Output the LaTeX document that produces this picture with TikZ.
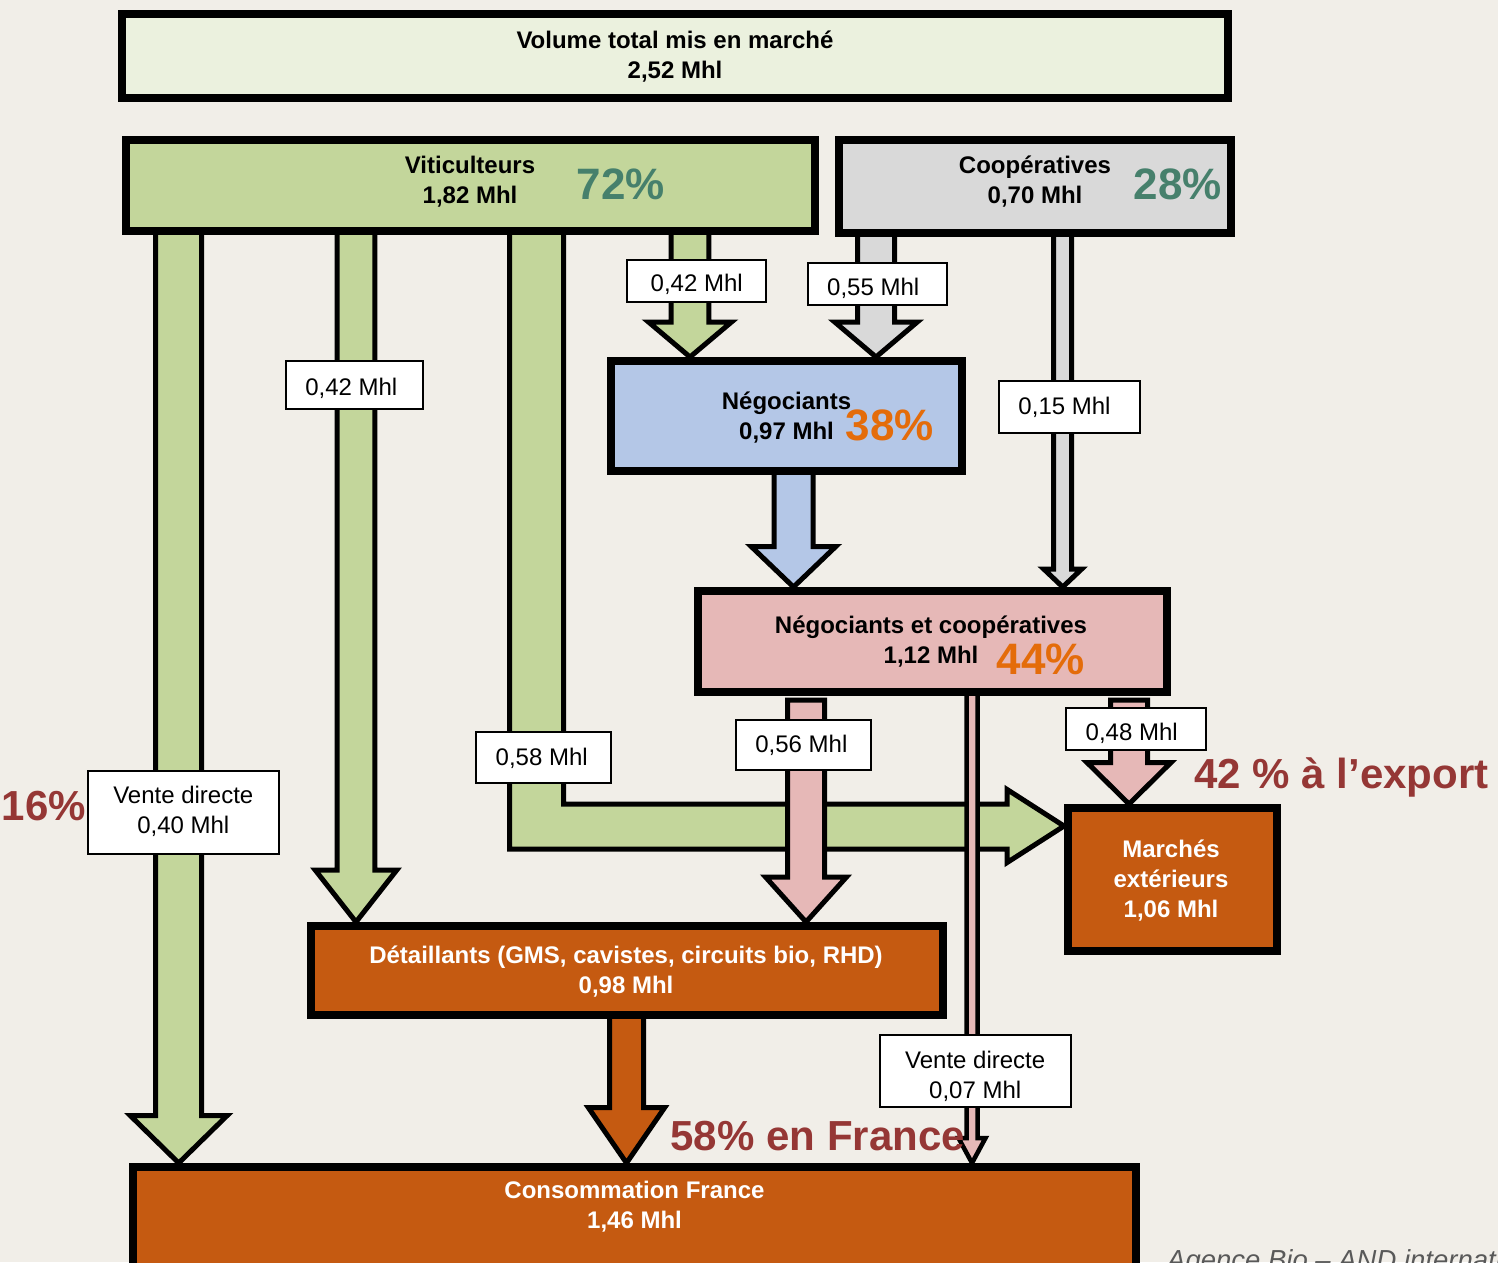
\documentclass[tikz,border=0pt]{standalone}
\usepackage{fontspec}
\setmainfont{Liberation Sans}
\usetikzlibrary{calc}
\definecolor{bgc}{RGB}{241,238,232}
\definecolor{volc}{RGB}{235,241,222}
\definecolor{vitc}{RGB}{195,214,155}
\definecolor{coopc}{RGB}{217,217,217}
\definecolor{negc}{RGB}{180,199,231}
\definecolor{ncc}{RGB}{230,184,183}
\definecolor{orc}{RGB}{197,90,17}
\definecolor{tealc}{RGB}{70,128,108}
\definecolor{orpct}{RGB}{228,108,10}
\definecolor{redc}{RGB}{149,55,53}
\pgfdeclarelayer{bgl}
\pgfdeclarelayer{arr}
\pgfsetlayers{bgl,arr,main}
\tikzset{
  box/.style={draw=black, line width=8pt, rectangle, inner sep=0pt},
  lbl/.style={draw=black, line width=2pt, fill=white, rectangle, inner sep=0pt},
  ltxt/.style={font=\fontsize{24}{30}\selectfont, align=center, inner sep=0pt},
  btxt/.style={font=\fontsize{24}{30}\selectfont\bfseries, align=center, inner sep=0pt},
  wtxt/.style={btxt, text=white},
  pctbox/.style={font=\fontsize{44}{44}\selectfont\bfseries, inner sep=0pt, anchor=base},
  pctred/.style={font=\fontsize{42}{42}\selectfont\bfseries, inner sep=0pt, anchor=base, text=redc},
  blk/.style={draw=black, line width=5pt, line join=miter, miter limit=10},
}
% #1 x, #2 from node, #3 to node, #4 shaft half, #5 head half, #6 head length, #7 style, #8 start offset
\newcommand{\dblock}[8]{%
  \coordinate (bx) at (#1,0);
  \coordinate (bs) at ($(#2.south -| bx)+(0,#8)$);
  \coordinate (bt) at (#3.north -| bx);
  \filldraw[blk,#7] ($(bs)+(-#4,0)$) -- ($(bt)+(-#4,-#6)$) -- ($(bt)+(-#5,-#6)$) -- (bt)
     -- ($(bt)+(#5,-#6)$) -- ($(bt)+(#4,-#6)$) -- ($(bs)+(#4,0)$) -- cycle;
}
\begin{document}
\begin{tikzpicture}[x=1pt,y=-1pt]
\path[use as bounding box] (0,0) rectangle (1498,1262);
\clip (0,0) rectangle (1498,1262);
\begin{pgfonlayer}{bgl}
  \fill[bgc] (0,0) rectangle (1498,1262);
\end{pgfonlayer}

% ---------- boxes ----------
\node[box, fill=volc, minimum width=1106pt, minimum height=84pt] (vol) at (675,56) {};
\node[box, fill=vitc, minimum width=689pt, minimum height=91pt] (vit) at (470.5,185.5) {};
\node[box, fill=coopc, minimum width=392pt, minimum height=93pt] (coop) at (1035,186.5) {};
\node[box, fill=negc, minimum width=351pt, minimum height=110pt] (neg) at (786.5,416) {};
\node[box, fill=ncc, minimum width=469pt, minimum height=101pt] (nc) at (932.5,641.5) {};
\node[box, fill=orc, minimum width=209pt, minimum height=143pt] (mar) at (1172.5,879.5) {};
\node[box, fill=orc, minimum width=632pt, minimum height=89pt] (det) at (627,970.5) {};
\node[box, fill=orc, minimum width=1003pt, minimum height=119pt] (conso) at (634.5,1226.5) {};

% ---------- block arrows ----------
\begin{pgfonlayer}{arr}
  % green (Viticulteurs)
  \dblock{178.7}{vit}{conso}{23}{48.5}{47.5}{fill=vitc}{-3}
  \dblock{356}{vit}{det}{18.8}{40.8}{52}{fill=vitc}{-3}
  \dblock{690}{vit}{neg}{18.8}{41.5}{35}{fill=vitc}{-3}
  \coordinate (Lx) at (536.7,0);
  \coordinate (Ltip) at ($(mar.west)+(0,-53.5)$);
  \filldraw[blk, fill=vitc] ($(vit.south -| Lx)+(-27,-3)$) |- ($(Ltip)+(-57,23)$)
     -- ($(Ltip)+(-57,36.6)$) -- (Ltip) -- ($(Ltip)+(-57,-36.6)$) -- ($(Ltip)+(-57,-22)$)
     -| ($(vit.south -| Lx)+(27,-3)$) -- cycle;
  % grey (Cooperatives)
  \dblock{876}{coop}{neg}{18.5}{41.3}{35}{fill=coopc}{-3}
  \dblock{1062.7}{coop}{nc}{9}{19}{18}{fill=coopc}{-3}
  % blue (Negociants)
  \dblock{793.5}{neg}{nc}{19.5}{42.3}{40.5}{fill=negc}{-3}
  % pink (Negociants et cooperatives)
  \dblock{806}{nc}{det}{18.5}{40.5}{45}{fill=ncc}{4}
  \dblock{972}{nc}{conso}{5.5}{13.5}{25}{fill=ncc, line width=4.5pt}{-3}
  \dblock{1129}{nc}{mar}{18.5}{42}{41.5}{fill=ncc}{4}
  % orange (Detaillants)
  \dblock{626.5}{det}{conso}{17}{38.2}{55.5}{fill=orc}{-3}
\end{pgfonlayer}

% ---------- flow labels ----------
\node[lbl, minimum width=137pt, minimum height=48pt] (l042a) at (354.5,385) {};
\node[lbl, minimum width=139pt, minimum height=42pt] (l042b) at (696,281) {};
\node[lbl, minimum width=139pt, minimum height=42pt] (l055) at (877,284) {};
\node[lbl, minimum width=141pt, minimum height=52pt] (l015) at (1069.5,407) {};
\node[lbl, minimum width=135pt, minimum height=51pt] (l058) at (543,757.5) {};
\node[lbl, minimum width=135pt, minimum height=50pt] (l056) at (803,745) {};
\node[lbl, minimum width=140pt, minimum height=42pt] (l048) at (1136,728.7) {};
\node[lbl, minimum width=191pt, minimum height=83pt] (vd1) at (183.7,812.5) {};
\node[lbl, minimum width=191pt, minimum height=72pt] (vd2) at (975.4,1071) {};

\node[ltxt] (t042a) at (351.3,388) {0,42 Mhl};
\node[ltxt] (t042b) at (696.7,284.8) {0,42 Mhl};
\node[ltxt] (t055) at (873.2,288.8) {0,55 Mhl};
\node[ltxt] (t015) at (1064.5,407) {0,15 Mhl};
\node[ltxt] (t058) at (541.7,758) {0,58 Mhl};
\node[ltxt] (t056) at (801.4,745.4) {0,56 Mhl};
\node[ltxt] (t048) at (1131.7,733.4) {0,48 Mhl};
\node[ltxt] (tvd1) at (183.3,811.3) {Vente directe\\0,40 Mhl};
\node[ltxt] (tvd2) at (975.2,1076) {Vente directe\\0,07 Mhl};

% ---------- box texts ----------
\node[btxt] (volT) at (675,56.3) {Volume total mis en marché\\2,52 Mhl};
\node[btxt] (vitT) at (470,182) {Viticulteurs\\1,82 Mhl};
\node[btxt] (coopT) at (1035,181.3) {Coopératives\\0,70 Mhl};
\node[btxt] (negT) at (786.5,418) {Négociants\\0,97 Mhl};
\node[btxt] (ncT) at (931,642) {Négociants et coopératives\\1,12 Mhl};
\node[wtxt] (marT) at (1171,881) {Marchés\\extérieurs\\1,06 Mhl};
\node[wtxt] (detT) at (626,972) {Détaillants (GMS, cavistes, circuits bio, RHD)\\0,98 Mhl};
\node[wtxt] (consoT) at (634.5,1207) {Consommation France\\1,46 Mhl};

% ---------- percentages ----------
\node[pctbox, text=tealc] (p72) at (621,199) {72\%};
\node[pctbox, text=tealc] (p28) at (1178,199) {28\%};
\node[pctbox, text=orpct] (p38) at (890,440) {38\%};
\node[pctbox, text=orpct] (p44) at (1041,674) {44\%};
\node[pctred] (p16) at (44,820) {16\%};
\node[pctred] (p42) at (1341.5,788) {42 \% à l’export};
\node[pctred] (p58) at (817.7,1150) {58\% en France};

% ---------- source (cut off by the page edge, as in the reference) ----------
\node[anchor=base west, inner sep=0pt, font=\fontsize{27.5}{27.5}\selectfont\itshape, text=black!65] (src) at (1167,1269) {Agence Bio – AND international};
\end{tikzpicture}
\end{document}
